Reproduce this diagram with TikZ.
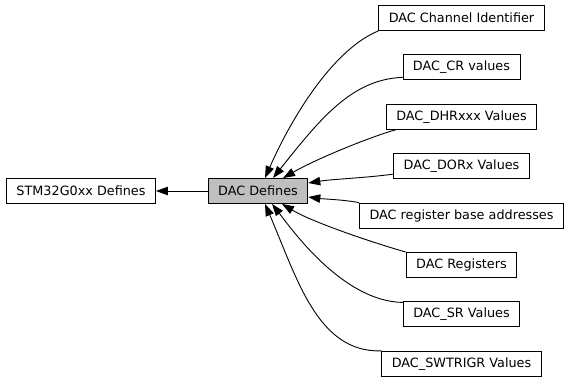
\documentclass[tikz,border=0pt]{standalone}
\usepackage{fontspec}
\setmainfont{DejaVu Sans}
\usetikzlibrary{arrows.meta}
\begin{document}
\begin{tikzpicture}[x=1pt, y=-1pt,
    group/.style={draw, line width=0.9pt, fill=white, inner xsep=10pt,
        minimum height=25pt, font=\fontsize{12.8}{15}\selectfont},
    edge/.style={line width=0.9pt, -{Triangle[length=12pt, width=8.5pt]}}]
    \useasboundingbox (0, 0) rectangle (572, 381);
    \node[group] (stm) at (81, 191) {STM32G0xx Defines};
    \node[group, fill=black!25] (dac) at (258, 191) {DAC Defines};
    % sub groups, one column on the right
    \foreach \name/\txt [count=\i from 0] in {chan/DAC Channel Identifier,
        cr/DAC\_CR values, dhr/DAC\_DHRxxx Values, dor/DAC\_DORx Values,
        base/DAC register base addresses, regs/DAC Registers,
        sr/DAC\_SR Values, swt/DAC\_SWTRIGR Values} {
        \node[group] (\name) at (461.5, 18 + 49.4*\i) {\txt};
    }
    \draw[edge] (dac) -- (stm);
    \draw[edge] (chan.south west) .. controls +(-42, 17) and +(30, -68) .. ([xshift=7pt]dac.north);
    \draw[edge] ([yshift=3pt]cr.south west) .. controls +(-51, 2) and +(47, -59) .. ([xshift=15pt]dac.north);
    \draw[edge] ([xshift=10pt]dhr.south west) .. controls +(-25, 7) and +(35, -20) .. ([xshift=25pt]dac.north);
    \draw[edge] ([yshift=5pt]dor.south west) .. controls +(-30, 4) and +(25, -4) .. ([yshift=8pt]dac.east);
    \draw[edge] (base.north west) .. controls +(-15, -3) and +(15, 2) .. ([yshift=-6pt]dac.east);
    \draw[edge] (regs.north west) .. controls +(-35, -10) and +(30, 18) .. ([xshift=24pt]dac.south);
    \draw[edge] ([yshift=-1pt]sr.north west) .. controls +(-61, -1) and +(18, 23) .. ([xshift=14pt]dac.south);
    \draw[edge] (swt.north west) .. controls +(-64, 2) and +(32, 74) .. ([xshift=7pt]dac.south);
\end{tikzpicture}
\end{document}
